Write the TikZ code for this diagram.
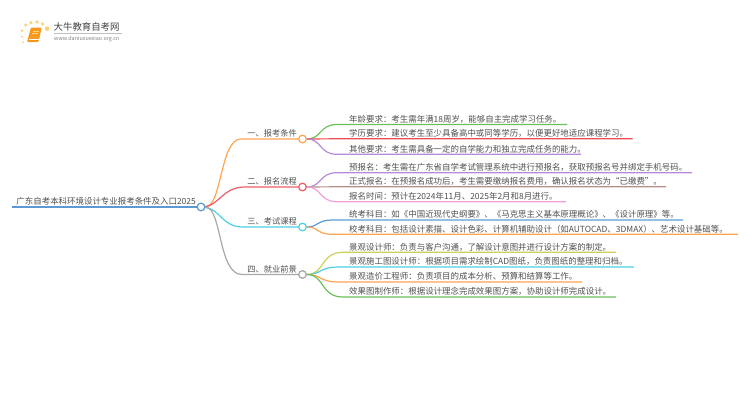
\documentclass[tikz,border=0pt]{standalone}
\usepackage{fontspec}
\setmainfont{Noto Sans CJK SC}
\definecolor{txt}{HTML}{505050}
\definecolor{cblue}{HTML}{5B9BD5}
\definecolor{corange}{HTML}{FFA550}
\definecolor{cred}{HTML}{EE5D66}
\definecolor{ccyan}{HTML}{4FD0E0}
\definecolor{cgray}{HTML}{A8A8A8}
\definecolor{cgreen}{HTML}{6BBF59}
\definecolor{cpurple}{HTML}{B58BD8}
\definecolor{cbrown}{HTML}{B5908A}
\definecolor{cpink}{HTML}{F0A0DC}
\definecolor{cyellow}{HTML}{CFCF55}
\definecolor{cline}{HTML}{EE4B50}
\definecolor{logodot}{HTML}{FBD27A}
\definecolor{logobook}{HTML}{F59A1E}
\tikzset{
 x=1pt,y=-1pt,
 leaf/.style={anchor=south west,inner xsep=0pt,inner ysep=1.2pt,text=txt,font=\fontsize{8.45}{10}\selectfont},
 topic/.style={anchor=south east,inner xsep=0pt,inner ysep=1.5pt,text=txt,font=\fontsize{8.25}{11}\selectfont},
 hub/.style={circle,draw,line width=1.1pt,fill=white,minimum size=7.5pt,inner sep=0pt},
 edge/.style={line width=1.2pt},
}
\begin{document}
\begin{tikzpicture}
\useasboundingbox (0,0) rectangle (750,410);
% logo
\foreach \px/\py/\r in {25.7/25/1.7,31/22.7/1.9,37/22/1.9,42.7/24/1.8,47/28.7/2.3,22/30.7/1.4,22/36.7/1.2,23/42/1}{
  \fill[logodot] (\px,\py) circle (\r);}
\fill[logobook,rounded corners=1pt] (31,27.5) -- (41.8,27.5) -- (38.5,42) -- (27,42) -- cycle;
\draw[white,line width=.5pt] (29,39.6) -- (38.6,39.6);
\draw[logodot,line width=.6pt] (33,31) -- (39,31) (32.4,33.5) -- (38.4,33.5);
\node[anchor=west,inner sep=0pt,text=black!75,font=\fontsize{9.4}{11}\selectfont] (logoa) at (53.5,26.5) {大牛教育自考网};
\draw[black!25,line width=.5pt] (54,33) -- (122,33);
\node[anchor=west,inner sep=0pt,text=black!50,font=\fontsize{5.4}{6}\selectfont] (logob) at (54,38.8) {www.daniuxuexiao.org.cn};
% coordinates
\coordinate (rs) at (12,207);
\node[hub,draw=cblue] (root) at (201,207) {};
\node[hub,draw=corange] (b1) at (302.5,139) {};
\node[hub,draw=cred] (b2) at (302.5,187) {};
\node[hub,draw=ccyan] (b3) at (302.5,227) {};
\node[hub,draw=cgray] (b4) at (302.5,274.5) {};
% leaf ends
\foreach \n/\xa/\xb/\yy in {la/337/567/124.5,lb/337/632.5/138.8,lc/337/581/154.3,ld/337/692/172.7,le/337/666/186.8,lf/337/566/201.7,lg/333/683/220,lh/333/738/234.3,li/343/616/252.3,lj/340/634/267,lk/340/582/282,ll/343/616/297}{
 \coordinate (\n s) at (\xa,\yy); \coordinate (\n e) at (\xb,\yy);}
% root
\draw[edge,cblue] (rs) -- (root);
% branches
\coordinate (t1) at (241,139); \coordinate (t2) at (245,187); \coordinate (t3) at (243,227); \coordinate (t4) at (242,274.5);
\draw[edge,corange] (root) .. controls (222,207) and (220,139) .. (t1) -- (b1);
\draw[edge,cred] (root) .. controls (219,205) and (223,187) .. (t2) -- (b2);
\draw[edge,ccyan] (root) .. controls (220,209) and (222,227) .. (t3) -- (b3);
\draw[edge,cgray] (root) .. controls (222,207) and (218,274.5) .. (t4) -- (b4);
\draw[edge,cgreen] (b1) .. controls (322,139) and (319,124.5) .. (las) -- (lae);
\draw[edge,cline] (b1) -- (lbs) -- (lbe);
\draw[edge,cpurple] (b1) .. controls (322,139) and (319,154.3) .. (lcs) -- (lce);
\draw[edge,cpurple] (b2) .. controls (322,187) and (319,172.7) .. (lds) -- (lde);
\draw[edge,cbrown] (b2) -- (les) -- (lee);
\draw[edge,cpink] (b2) .. controls (322,187) and (319,201.7) .. (lfs) -- (lfe);
\draw[edge,cblue] (b3) .. controls (319,227) and (316,220) .. (lgs) -- (lge);
\draw[edge,corange] (b3) .. controls (319,227) and (316,234.3) .. (lhs) -- (lhe);
\draw[edge,cyellow] (b4) .. controls (325,274.5) and (320,252.3) .. (lis) -- (lie);
\draw[edge,ccyan] (b4) .. controls (322,274.5) and (318,267) .. (ljs) -- (lje);
\draw[edge,corange] (b4) .. controls (322,274.5) and (318,282) .. (lks) -- (lke);
\draw[edge,cgreen] (b4) .. controls (325,274.5) and (320,297) .. (lls) -- (lle);
\node[hub,draw=cblue] at (root) {};
\node[hub,draw=corange] at (b1) {};
\node[hub,draw=cred] at (b2) {};
\node[hub,draw=ccyan] at (b3) {};
\node[hub,draw=cgray] at (b4) {};
% texts
\node[topic,font=\fontsize{8.45}{11}\selectfont] (rt) at (196,207) {广东自考本科环境设计专业报考条件及入口2025};
\node[topic] (t1t) at (297,139) {一、报考条件};
\node[topic] (t2t) at (297,187) {二、报名流程};
\node[topic] (t3t) at (297,227) {三、考试课程};
\node[topic] (t4t) at (297,274.5) {四、就业前景};
\node[leaf] (a) at (349,124.5) {年龄要求：考生需年满18周岁，能够自主完成学习任务。};
\node[leaf] (b) at (349,138.8) {学历要求：建议考生至少具备高中或同等学历，以便更好地适应课程学习。};
\node[leaf] (c) at (349,154.3) {其他要求：考生需具备一定的自学能力和独立完成任务的能力。};
\node[leaf] (d) at (349,172.7) {预报名：考生需在广东省自学考试管理系统中进行预报名，获取预报名号并绑定手机号码。};
\node[leaf] (e) at (349,186.8) {正式报名：在预报名成功后，考生需要缴纳报名费用，确认报名状态为“已缴费”。};
\node[leaf] (f) at (349,201.7) {报名时间：预计在2024年11月、2025年2月和8月进行。};
\node[leaf] (g) at (349,220) {统考科目：如《中国近现代史纲要》、《马克思主义基本原理概论》、《设计原理》等。};
\node[leaf] (h) at (349,234.3) {校考科目：包括设计素描、设计色彩、计算机辅助设计（如AUTOCAD、3DMAX）、艺术设计基础等。};
\node[leaf] (i) at (349,252.3) {景观设计师：负责与客户沟通，了解设计意图并进行设计方案的制定。};
\node[leaf] (j) at (349,267) {景观施工图设计师：根据项目需求绘制CAD图纸，负责图纸的整理和归档。};
\node[leaf] (k) at (349,282) {景观造价工程师：负责项目的成本分析、预算和结算等工作。};
\node[leaf] (l) at (349,297) {效果图制作师：根据设计理念完成效果图方案，协助设计师完成设计。};
\end{tikzpicture}
\end{document}
